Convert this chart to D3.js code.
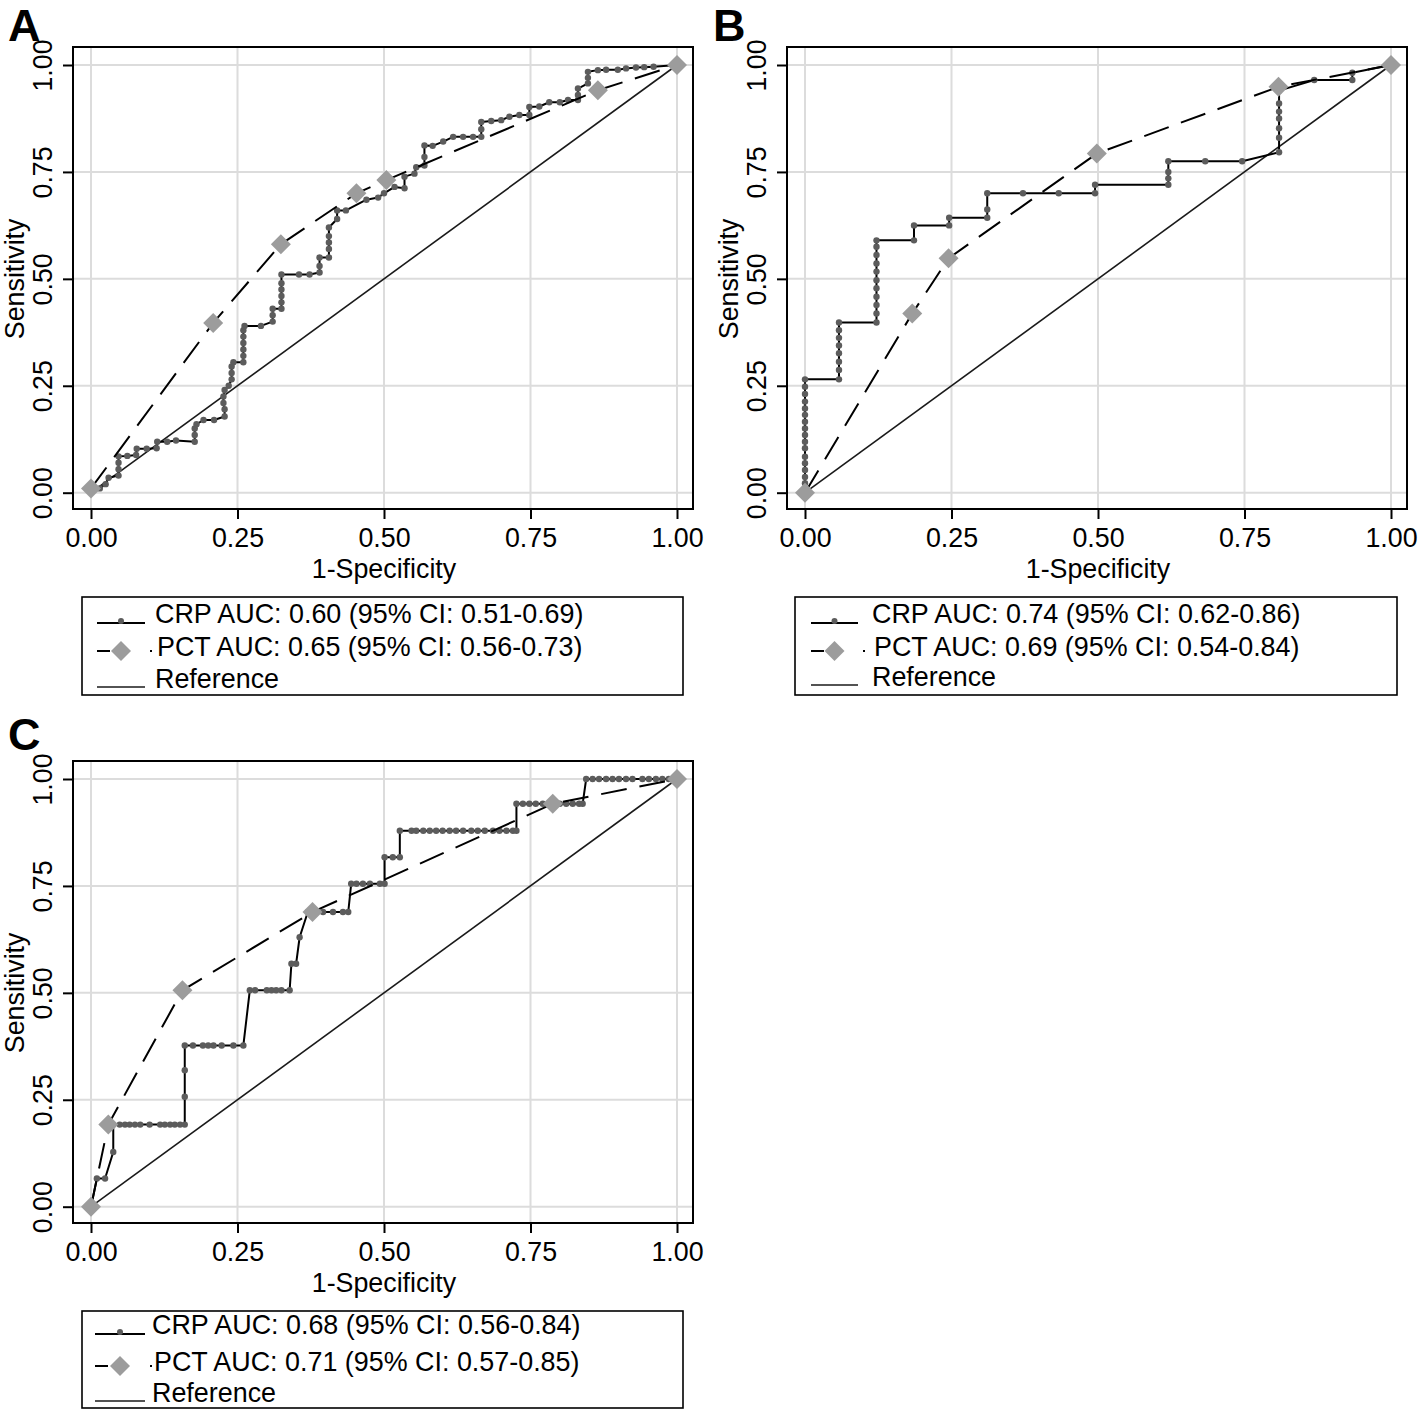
<!DOCTYPE html>
<html><head><meta charset="utf-8">
<script src="https://cdn.jsdelivr.net/npm/d3@7"></script>
<style>
body{margin:0;background:#fff}
text{font-family:"Liberation Sans",Arial,Helvetica,sans-serif;fill:#000}
</style>
</head><body>
<svg id="chart" width="1418" height="1413"></svg>
<script>
// ---------- DATA ----------
const tickValues = [0, 0.25, 0.5, 0.75, 1];
const panelLetters = ["A", "B", "C"];
const xTitle = "1-Specificity";
const yTitle = "Sensitivity";

const crpA = [[0,0],[0.015,0.01],[0.025,0.02],[0.03,0.035],[0.047,0.04],[0.047,0.055],[0.047,0.07],[0.047,0.085],[0.062,0.086],[0.077,0.088],[0.078,0.103],[0.095,0.103],[0.112,0.104],[0.113,0.119],[0.13,0.119],[0.145,0.122],[0.177,0.119],[0.177,0.135],[0.177,0.15],[0.18,0.16],[0.192,0.17],[0.21,0.17],[0.228,0.178],[0.228,0.195],[0.226,0.21],[0.226,0.225],[0.228,0.24],[0.235,0.25],[0.24,0.265],[0.24,0.28],[0.24,0.295],[0.243,0.305],[0.26,0.305],[0.26,0.32],[0.26,0.335],[0.26,0.35],[0.26,0.365],[0.26,0.38],[0.262,0.39],[0.29,0.39],[0.31,0.40],[0.31,0.415],[0.31,0.43],[0.325,0.43],[0.325,0.445],[0.325,0.46],[0.325,0.475],[0.325,0.49],[0.325,0.51],[0.355,0.51],[0.373,0.51],[0.39,0.515],[0.39,0.53],[0.39,0.55],[0.406,0.55],[0.406,0.57],[0.406,0.585],[0.406,0.60],[0.406,0.62],[0.42,0.64],[0.42,0.66],[0.435,0.66],[0.47,0.685],[0.49,0.69],[0.50,0.70],[0.518,0.715],[0.535,0.712],[0.535,0.739],[0.552,0.746],[0.555,0.761],[0.569,0.765],[0.569,0.785],[0.569,0.812],[0.583,0.811],[0.601,0.821],[0.618,0.832],[0.635,0.832],[0.652,0.832],[0.666,0.832],[0.666,0.85],[0.666,0.867],[0.683,0.869],[0.70,0.871],[0.714,0.879],[0.731,0.883],[0.748,0.883],[0.748,0.902],[0.765,0.903],[0.782,0.913],[0.80,0.913],[0.814,0.918],[0.831,0.918],[0.831,0.93],[0.831,0.945],[0.848,0.957],[0.848,0.97],[0.848,0.984],[0.865,0.988],[0.879,0.989],[0.899,0.989],[0.913,0.992],[0.930,0.994],[0.944,0.995],[0.96,0.996],[1,1]];
const pctA = [[0,0.01],[0.2085,0.397],[0.324,0.581],[0.453,0.70],[0.504,0.731],[0.865,0.941],[1,1]];

const crpB = [[0,0],[0,0.022],[0,0.037],[0,0.053],[0,0.069],[0,0.084],[0,0.104],[0,0.119],[0,0.135],[0,0.150],[0,0.166],[0,0.182],[0,0.197],[0,0.213],[0,0.231],[0,0.248],[0,0.265],[0.058,0.265],[0.058,0.287],[0.058,0.306],[0.058,0.326],[0.058,0.344],[0.058,0.362],[0.058,0.38],[0.058,0.398],[0.122,0.398],[0.122,0.419],[0.122,0.439],[0.122,0.458],[0.122,0.478],[0.122,0.497],[0.122,0.517],[0.122,0.536],[0.122,0.556],[0.122,0.575],[0.122,0.59],[0.186,0.59],[0.186,0.625],[0.246,0.625],[0.246,0.643],[0.311,0.643],[0.311,0.662],[0.311,0.70],[0.372,0.70],[0.433,0.70],[0.495,0.70],[0.495,0.72],[0.62,0.72],[0.62,0.735],[0.62,0.75],[0.62,0.775],[0.683,0.775],[0.746,0.775],[0.809,0.796],[0.809,0.83],[0.809,0.852],[0.809,0.875],[0.809,0.891],[0.809,0.91],[0.809,0.94],[0.869,0.965],[0.934,0.965],[0.934,0.982],[1,1]];
const pctB = [[0,0],[0.183,0.419],[0.245,0.548],[0.498,0.793],[0.808,0.949],[1,1]];

const crpC = [[0,0],[0.01,0.066],[0.024,0.066],[0.038,0.128],[0.038,0.192],[0.049,0.192],[0.058,0.192],[0.066,0.192],[0.075,0.192],[0.084,0.192],[0.10,0.192],[0.118,0.192],[0.126,0.192],[0.135,0.192],[0.143,0.192],[0.152,0.192],[0.16,0.192],[0.16,0.257],[0.16,0.319],[0.16,0.377],[0.174,0.377],[0.191,0.377],[0.20,0.377],[0.209,0.377],[0.223,0.377],[0.243,0.377],[0.26,0.377],[0.271,0.506],[0.28,0.506],[0.30,0.506],[0.308,0.506],[0.316,0.506],[0.325,0.506],[0.339,0.506],[0.342,0.568],[0.35,0.568],[0.356,0.630],[0.37,0.689],[0.396,0.689],[0.413,0.689],[0.43,0.689],[0.439,0.689],[0.444,0.755],[0.453,0.755],[0.464,0.755],[0.476,0.755],[0.493,0.755],[0.501,0.755],[0.501,0.817],[0.515,0.817],[0.527,0.817],[0.527,0.879],[0.547,0.879],[0.555,0.879],[0.567,0.879],[0.578,0.879],[0.589,0.879],[0.600,0.879],[0.612,0.879],[0.623,0.879],[0.635,0.879],[0.649,0.879],[0.66,0.879],[0.672,0.879],[0.686,0.879],[0.697,0.879],[0.709,0.879],[0.720,0.879],[0.726,0.879],[0.726,0.942],[0.737,0.942],[0.748,0.942],[0.759,0.942],[0.771,0.942],[0.8,0.942],[0.811,0.942],[0.822,0.942],[0.833,0.942],[0.839,0.942],[0.845,1],[0.856,1],[0.867,1],[0.879,1],[0.89,1],[0.901,1],[0.913,1],[0.924,1],[0.941,1],[0.952,1],[0.964,1],[0.975,1],[0.986,1],[1,1]];
const pctC = [[0,0],[0.0295,0.192],[0.156,0.506],[0.378,0.689],[0.788,0.942],[1,1]];

const referenceLine = [[0,0],[1,1]];

const legendA = ["CRP AUC: 0.60 (95% CI: 0.51-0.69)", "PCT AUC: 0.65 (95% CI: 0.56-0.73)", "Reference"];
const legendB = ["CRP AUC: 0.74 (95% CI: 0.62-0.86)", "PCT AUC: 0.69 (95% CI: 0.54-0.84)", "Reference"];
const legendC = ["CRP AUC: 0.68 (95% CI: 0.56-0.84)", "PCT AUC: 0.71 (95% CI: 0.57-0.85)", "Reference"];

// ---------- LAYOUT ----------
const panels = [
  {letter: panelLetters[0], lx: 8, ly: 41, L: 73, T: 47, R: 693, B: 509, crp: crpA, pct: pctA, legend: legendA,
   box: {x: 82, y: 597, w: 601, h: 98}, textX: 155, rows: [623, 656, 688], sx0: 97, sx1: 145},
  {letter: panelLetters[1], lx: 713, ly: 41, L: 787, T: 47, R: 1407, B: 509, crp: crpB, pct: pctB, legend: legendB,
   box: {x: 795, y: 597, w: 602, h: 98}, textX: 872, rows: [623, 656, 686], sx0: 811, sx1: 858},
  {letter: panelLetters[2], lx: 8, ly: 750, L: 73, T: 761, R: 693, B: 1223, crp: crpC, pct: pctC, legend: legendC,
   box: {x: 82, y: 1311, w: 601, h: 97}, textX: 152, rows: [1334, 1371, 1402], sx0: 95, sx1: 145}
];

const svg = d3.select("#chart");
const FONT = 26.8;
const diamond = d3.symbol().type(d3.symbolSquare).size(200);

panels.forEach(p => {
  const x = d3.scaleLinear().domain([0, 1]).range([p.L + 18, p.R - 16]);
  const y = d3.scaleLinear().domain([0, 1]).range([p.B - 16.3, p.T + 18]);
  const g = svg.append("g");

  // gridlines
  g.selectAll(".gx").data(tickValues).join("line")
    .attr("x1", d => x(d)).attr("x2", d => x(d)).attr("y1", p.T).attr("y2", p.B)
    .attr("stroke", "#dcdcdc").attr("stroke-width", 2);
  g.selectAll(".gy").data(tickValues).join("line")
    .attr("y1", d => y(d)).attr("y2", d => y(d)).attr("x1", p.L).attr("x2", p.R)
    .attr("stroke", "#dcdcdc").attr("stroke-width", 2);

  const line = d3.line().x(d => x(d[0])).y(d => y(d[1]));

  // reference
  g.append("path").datum(referenceLine).attr("d", line)
    .attr("fill", "none").attr("stroke", "#1a1a1a").attr("stroke-width", 1.6);

  // CRP line + dots
  g.append("path").datum(p.crp).attr("d", line)
    .attr("fill", "none").attr("stroke", "#000").attr("stroke-width", 2).attr("stroke-linejoin", "round");
  g.selectAll(".crpdot").data(p.crp.slice(1, -1)).join("circle")
    .attr("cx", d => x(d[0])).attr("cy", d => y(d[1])).attr("r", 3.2).attr("fill", "#5c5c5c");

  // PCT dashed line + diamonds
  g.append("path").datum(p.pct).attr("d", line)
    .attr("fill", "none").attr("stroke", "#000").attr("stroke-width", 2).attr("stroke-dasharray", "26,13");
  g.selectAll(".pctd").data(p.pct).join("path")
    .attr("d", diamond)
    .attr("transform", d => `translate(${x(d[0])},${y(d[1])}) rotate(45)`)
    .attr("fill", "#9c9c9c");

  // frame
  g.append("rect").attr("x", p.L).attr("y", p.T).attr("width", p.R - p.L).attr("height", p.B - p.T)
    .attr("fill", "none").attr("stroke", "#000").attr("stroke-width", 2);

  // axes
  const fmt = d3.format(".2f");
  const ax = g.append("g").attr("transform", `translate(${p.L},0)`)
    .call(d3.axisLeft(y).tickValues(tickValues).tickFormat(fmt).tickSize(10).tickPadding(0));
  ax.select(".domain").remove();
  ax.selectAll("line").attr("stroke", "#000").attr("stroke-width", 2);
  ax.selectAll("text").attr("font-size", FONT).attr("font-family", null)
    .attr("dy", null).attr("x", 0).attr("y", -21.5)
    .attr("text-anchor", "middle").attr("transform", "rotate(-90)");

  const bx = g.append("g").attr("transform", `translate(0,${p.B})`)
    .call(d3.axisBottom(x).tickValues(tickValues).tickFormat(fmt).tickSize(10).tickPadding(0));
  bx.select(".domain").remove();
  bx.selectAll("line").attr("stroke", "#000").attr("stroke-width", 2);
  bx.selectAll("text").attr("font-size", FONT).attr("font-family", null)
    .attr("dy", null).attr("y", 38).attr("text-anchor", "middle");

  // titles
  g.append("text").attr("x", x(0.5)).attr("y", p.B + 69).attr("text-anchor", "middle")
    .attr("font-size", FONT).text(xTitle);
  g.append("text").attr("transform", `translate(${p.L - 49},${y(0.5)}) rotate(-90)`)
    .attr("text-anchor", "middle").attr("font-size", FONT).text(yTitle);

  // panel letter
  g.append("text").attr("x", p.lx).attr("y", p.ly).attr("font-size", 45).attr("font-weight", "bold").text(p.letter);

  // legend
  const lg = g.append("g");
  lg.append("rect").attr("x", p.box.x).attr("y", p.box.y).attr("width", p.box.w).attr("height", p.box.h)
    .attr("fill", "#fff").attr("stroke", "#000").attr("stroke-width", 1.6);
  lg.selectAll(".lt").data(p.legend).join("text")
    .attr("x", (d, i) => p.textX + (i === 1 ? 2 : 0)).attr("y", (d, i) => p.rows[i])
    .attr("font-size", 26.9).text(d => d);
  const mid = (p.sx0 + p.sx1) / 2;
  // CRP sample
  lg.append("line").attr("x1", p.sx0).attr("x2", p.sx1).attr("y1", p.rows[0]).attr("y2", p.rows[0])
    .attr("stroke", "#000").attr("stroke-width", 2);
  lg.append("circle").attr("cx", mid).attr("cy", p.rows[0] - 2).attr("r", 3).attr("fill", "#5c5c5c");
  // PCT sample
  const py = p.rows[1] - 5;
  lg.append("line").attr("x1", p.sx0).attr("x2", mid).attr("y1", py).attr("y2", py)
    .attr("stroke", "#000").attr("stroke-width", 2).attr("stroke-dasharray", "13,13");
  lg.append("line").attr("x1", p.sx1 + 5).attr("x2", p.sx1 + 7).attr("y1", py).attr("y2", py)
    .attr("stroke", "#000").attr("stroke-width", 2);
  lg.append("path").attr("d", diamond).attr("transform", `translate(${mid},${py}) rotate(45)`).attr("fill", "#9c9c9c");
  // Reference sample
  lg.append("line").attr("x1", p.sx0).attr("x2", p.sx1).attr("y1", p.rows[2] - 1).attr("y2", p.rows[2] - 1)
    .attr("stroke", "#1a1a1a").attr("stroke-width", 1.6);
});
</script>
</body></html>
